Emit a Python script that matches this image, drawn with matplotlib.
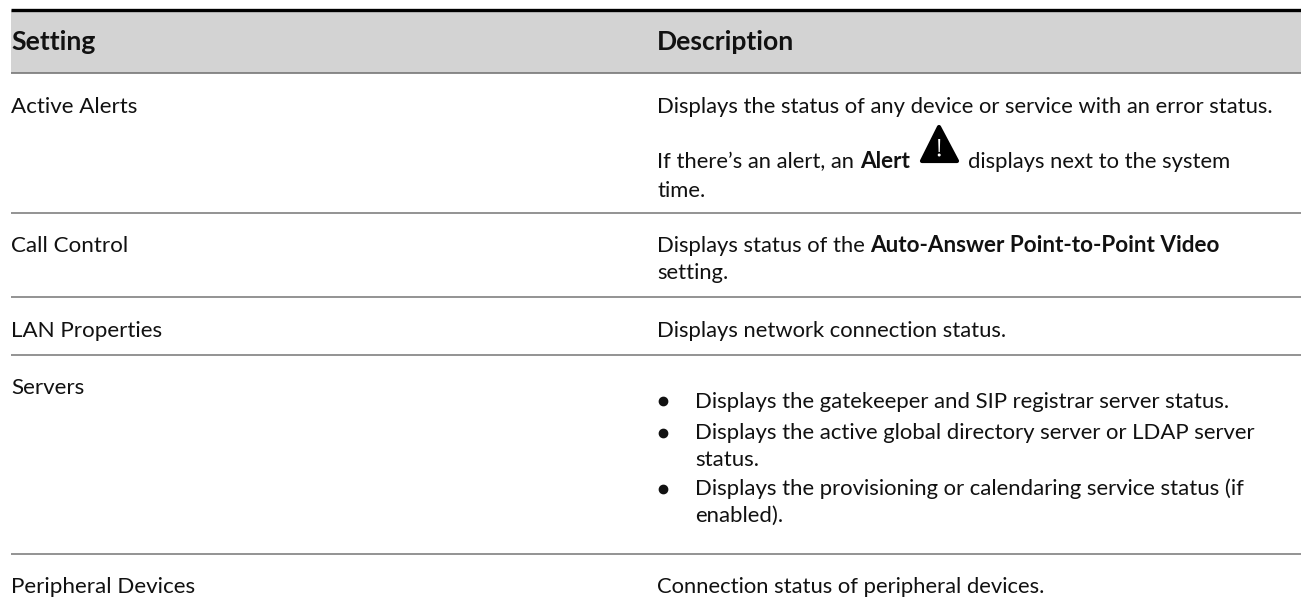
''' settings table: status settings and what they display '''
import matplotlib
matplotlib.use("Agg")
import matplotlib.pyplot as plt
from matplotlib.patches import Polygon, Rectangle, Circle

plt.rcParams['font.family'] = ['Lato', 'DejaVu Sans']

W = 1301; H = 608
FS = 15.85; FS_BOLD = 16.2; FS_LEFT = 16.1; FS_BULLET = 15.9; FS_HEAD = 19.1
COL1 = 11; COL2 = 657; BULLET_TEXT = 695

headers = ["Setting", "Description"]
settings = ["Active Alerts", "Call Control", "LAN Properties", "Servers", "Peripheral Devices"]
setting_base = [113, 252.5, 337, 394, 593]
rules = [213, 297, 355, 554]

# each line is a list of (text, bold) runs
desc_lines = [
    (113, [("Displays the status of any device or service with an error status.", False)]),
    (197, [("time.", False)]),
    (252.5, [("Displays status of the ", False), ("Auto-Answer Point-to-Point Video", True)]),
    (279, [("setting.", False)]),
    (337, [("Displays network connection status.", False)]),
    (593, [("Connection status of peripheral devices.", False)]),
]
bullets = [
    (407.5, True, "Displays the gatekeeper and SIP registrar server status."),
    (439, True, "Displays the active global directory server or LDAP server"),
    (466, False, "status."),
    (495, True, "Displays the provisioning or calendaring service status (if"),
    (522, False, "enabled)."),
]

fig = plt.figure(figsize=(W/100, H/100), dpi=100, facecolor="white")
ax = fig.add_axes([0, 0, 1, 1])
ax.set_xlim(0, W); ax.set_ylim(H, 0)
ax.axis("off")


def put(x, y, s, bold=False, fs=None):
    if fs is None:
        fs = FS_BOLD if bold else FS
    t = ax.text(x, y, s, fontsize=fs, color="#111111", va="baseline", ha="left",
                fontweight="bold" if bold else "normal")
    bb = t.get_window_extent(fig.canvas.get_renderer())
    return bb.x1 * W / fig.bbox.width


# header band
ax.add_patch(Rectangle((COL1, 10), W-COL1, 63, facecolor="#d3d3d3", edgecolor="none"))
ax.plot([COL1, W], [10, 10], color="black", lw=2.4, solid_capstyle="butt")
ax.plot([COL1, W], [73, 73], color="#777777", lw=1.2, solid_capstyle="butt")
put(COL1, 50, headers[0], True, FS_HEAD)
put(COL2, 50, headers[1], True, FS_HEAD)

for y in rules:
    ax.plot([COL1, W], [y, y], color="#808080", lw=1.2, solid_capstyle="butt")

for s, y in zip(settings, setting_base):
    put(COL1, y, s, fs=FS_LEFT)

for y, runs in desc_lines:
    x = COL2
    for s, bold in runs:
        x = put(x, y, s, bold)

# alert line, with the icon between the words
x = put(COL2, 168, "If there\u2019s an alert, an ")
x = put(x, 168, "Alert", True)
put(968, 168, "displays next to the system")
ax.add_patch(Polygon([[939, 127], [922, 161], [957, 161]], closed=True, facecolor="black",
                     edgecolor="black", lw=3, joinstyle="round"))
ax.add_patch(Polygon([[938.2, 139], [940.2, 139], [939.8, 152], [938.6, 152]], closed=True,
                     facecolor="white", edgecolor="none"))
ax.add_patch(Circle((939.2, 155), 1.5, facecolor="white", edgecolor="none"))

for y, dot, s in bullets:
    if dot:
        ax.plot([663], [y-6.5], marker="o", ms=6, color="#111111")
    put(BULLET_TEXT, y, s, fs=FS_BULLET)

fig.savefig("out.png", dpi=100)
